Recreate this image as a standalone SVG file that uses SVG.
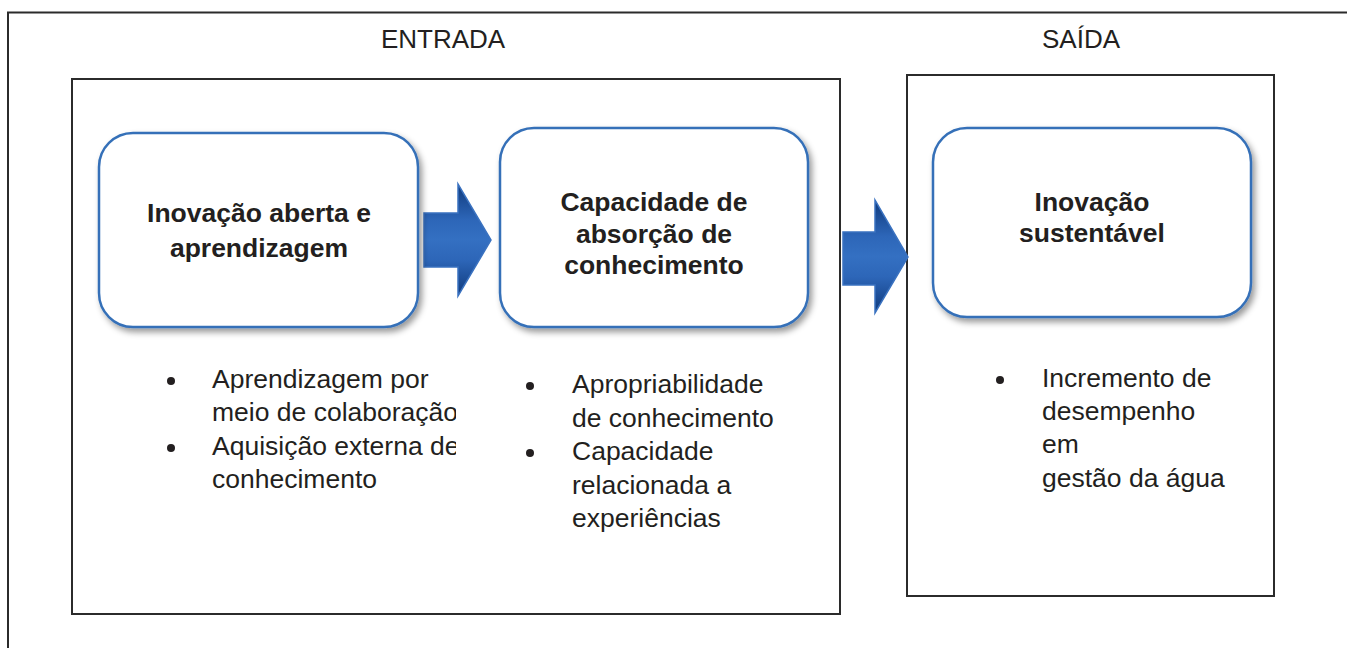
<svg xmlns="http://www.w3.org/2000/svg" width="1347" height="648" viewBox="0 0 1347 648">
<style>
.frame{fill:none;stroke:#2b2b2b;stroke-width:2}
.node{fill:#fff;stroke:#3570b8;stroke-width:2.5;filter:url(#sh)}
.title{font-family:"Liberation Sans",Arial,sans-serif;font-size:26px;fill:#231f20;text-anchor:middle}
.bold{font-family:"Liberation Sans",Arial,sans-serif;font-size:26.5px;font-weight:bold;fill:#231f20;text-anchor:middle}
.item{font-family:"Liberation Sans",Arial,sans-serif;font-size:26.5px;fill:#231f20}
.dot{fill:#231f20}
.arrow{fill:url(#ag);stroke:#3a72c0;stroke-width:1.5}
</style>
<defs>
<filter id="sh" x="-10%" y="-10%" width="125%" height="130%">
<feDropShadow dx="3" dy="4" stdDeviation="3" flood-color="#000" flood-opacity="0.4"/>
</filter>
<linearGradient id="ag" x1="0" y1="0" x2="0" y2="1">
<stop offset="0" stop-color="#0f3a7c"/>
<stop offset="0.32" stop-color="#2d66b8"/>
<stop offset="0.5" stop-color="#3470c2"/>
<stop offset="0.68" stop-color="#2d66b8"/>
<stop offset="1" stop-color="#0f3a7c"/>
</linearGradient>
<clipPath id="clipL"><rect x="0" y="350" width="456" height="160"/></clipPath>
</defs>
<rect width="1347" height="648" fill="#fff"/>
<g id="frames">
<rect class="frame" x="8" y="12.5" width="1345" height="650"/>
<rect class="frame" x="72" y="79" width="768" height="535"/>
<rect class="frame" x="907" y="75" width="367" height="521"/>
<text class="title" x="443" y="48">ENTRADA</text>
<text class="title" x="1081" y="48">SAÍDA</text>
</g>
<g id="connectors">
<polygon class="arrow" points="424,213 458,213 458,184 491,240 458,296 458,267 424,267"/>
<polygon class="arrow" points="843,232 875,232 875,200 908,257 875,313 875,285 843,285"/>
</g>
<g id="node1">
<rect class="node" x="99" y="133" width="319" height="194" rx="34"/>
<text class="bold" x="259" y="222">Inovação aberta e</text>
<text class="bold" x="259" y="257">aprendizagem</text>
</g>
<g id="node2">
<rect class="node" x="500" y="128" width="308" height="199" rx="34"/>
<text class="bold" x="654" y="211">Capacidade de</text>
<text class="bold" x="654" y="243">absorção de</text>
<text class="bold" x="654" y="274">conhecimento</text>
</g>
<g id="node3">
<rect class="node" x="933" y="128" width="318" height="189" rx="34"/>
<text class="bold" x="1092" y="211">Inovação</text>
<text class="bold" x="1092" y="242">sustentável</text>
</g>
<g id="list1" clip-path="url(#clipL)">
<circle class="dot" cx="171" cy="381" r="4"/>
<circle class="dot" cx="171" cy="448" r="4"/>
<text class="item" x="212" y="388">Aprendizagem por</text>
<text class="item" x="212" y="421">meio de colaboração</text>
<text class="item" x="212" y="455">Aquisição externa de</text>
<text class="item" x="212" y="488">conhecimento</text>
</g>
<g id="list2">
<circle class="dot" cx="530" cy="386" r="4"/>
<circle class="dot" cx="530" cy="453" r="4"/>
<text class="item" x="572" y="393">Apropriabilidade</text>
<text class="item" x="572" y="427">de conhecimento</text>
<text class="item" x="572" y="460">Capacidade</text>
<text class="item" x="572" y="494">relacionada a</text>
<text class="item" x="572" y="527">experiências</text>
</g>
<g id="list3">
<circle class="dot" cx="1000" cy="380" r="4"/>
<text class="item" x="1042" y="387">Incremento de</text>
<text class="item" x="1042" y="420">desempenho</text>
<text class="item" x="1042" y="453">em</text>
<text class="item" x="1042" y="487">gestão da água</text>
</g>
</svg>
